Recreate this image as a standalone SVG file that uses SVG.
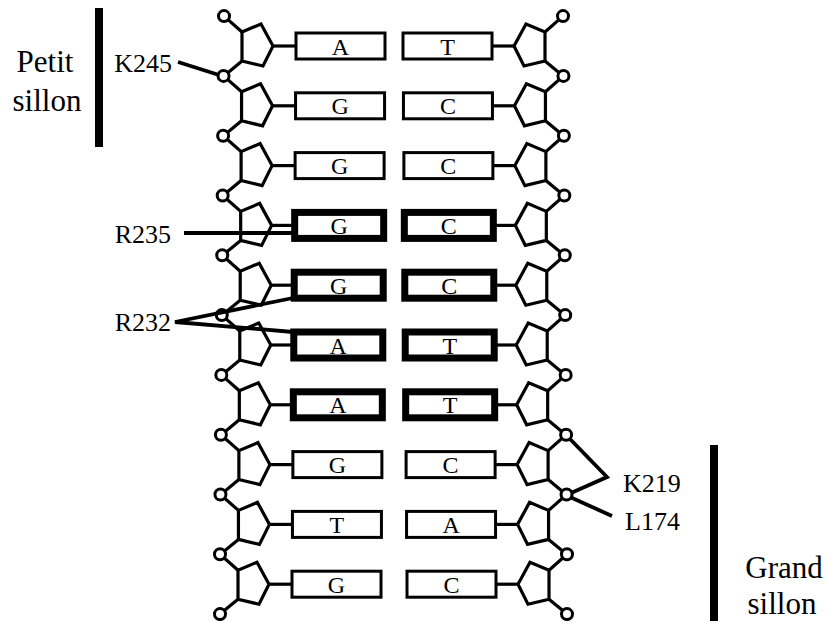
<svg xmlns="http://www.w3.org/2000/svg" width="829" height="621" viewBox="0 0 829 621">
<style>
.s{fill:none;stroke:#000;stroke-width:3.2;stroke-linejoin:miter}
.c{fill:#fff;stroke:#000;stroke-width:3}
.b{fill:#fff;stroke:#000;stroke-width:3}
.bb{fill:#fff;stroke:#000;stroke-width:7}
text{font-family:"Liberation Serif","DejaVu Serif","Times New Roman",serif;fill:#000}
.t{font-size:24px;text-anchor:middle}
.lab{font-size:26px}
.big{font-size:31px;text-anchor:middle}
.k{stroke:#000;stroke-width:3.8;fill:none;stroke-linecap:butt}
</style>
<defs>
<g id="sugL"><polygon class="s" points="242,-14 261,-22 273,0 263,20 242,15"/><line class="s" x1="273" y1="0" x2="296" y2="0"/><line class="s" x1="224" y1="-29.9" x2="242" y2="-14"/><line class="s" x1="242" y1="15" x2="224" y2="29.9"/><circle class="c" cx="224" cy="-29.9" r="5.5"/></g>
<g id="sugR"><polygon class="s" points="545,-14 526,-22 514,0 524,20 545,15"/><line class="s" x1="514" y1="0" x2="492" y2="0"/><line class="s" x1="563" y1="-29.9" x2="545" y2="-14"/><line class="s" x1="545" y1="15" x2="563" y2="29.9"/><circle class="c" cx="563" cy="-29.9" r="5.5"/></g>
</defs>
<rect width="829" height="621" fill="#fff"/>
<g id="dna">
<g id="row0" transform="translate(0,46)">
<g id="n0L" transform="translate(0,0)"><use href="#sugL"/><rect class="b" x="296" y="-13" width="89" height="26"/><text class="t" font-family="Liberation Serif, DejaVu Serif, serif" x="340.5" y="8.5">A</text></g>
<g id="n0R" transform="translate(0,0)"><use href="#sugR"/><rect class="b" x="403" y="-13" width="89" height="26"/><text class="t" font-family="Liberation Serif, DejaVu Serif, serif" x="447.5" y="8.5">T</text></g>
</g>
<g id="row1" transform="translate(0,105.8)">
<g id="n1L" transform="translate(-0.44,0)"><use href="#sugL"/><rect class="b" x="296" y="-13" width="89" height="26"/><text class="t" font-family="Liberation Serif, DejaVu Serif, serif" x="340.5" y="8.5">G</text></g>
<g id="n1R" transform="translate(0.44,0)"><use href="#sugR"/><rect class="b" x="403" y="-13" width="89" height="26"/><text class="t" font-family="Liberation Serif, DejaVu Serif, serif" x="447.5" y="8.5">C</text></g>
</g>
<g id="row2" transform="translate(0,165.6)">
<g id="n2L" transform="translate(-0.89,0)"><use href="#sugL"/><rect class="b" x="296" y="-13" width="89" height="26"/><text class="t" font-family="Liberation Serif, DejaVu Serif, serif" x="340.5" y="8.5">G</text></g>
<g id="n2R" transform="translate(0.89,0)"><use href="#sugR"/><rect class="b" x="403" y="-13" width="89" height="26"/><text class="t" font-family="Liberation Serif, DejaVu Serif, serif" x="447.5" y="8.5">C</text></g>
</g>
<g id="row3" transform="translate(0,225.4)">
<g id="n3L" transform="translate(-1.33,0)"><use href="#sugL"/><rect class="bb" x="296" y="-13" width="89" height="26"/><text class="t" font-family="Liberation Serif, DejaVu Serif, serif" x="340.5" y="8.5">G</text></g>
<g id="n3R" transform="translate(1.33,0)"><use href="#sugR"/><rect class="bb" x="403" y="-13" width="89" height="26"/><text class="t" font-family="Liberation Serif, DejaVu Serif, serif" x="447.5" y="8.5">C</text></g>
</g>
<g id="row4" transform="translate(0,285.2)">
<g id="n4L" transform="translate(-1.78,0)"><use href="#sugL"/><rect class="bb" x="296" y="-13" width="89" height="26"/><text class="t" font-family="Liberation Serif, DejaVu Serif, serif" x="340.5" y="8.5">G</text></g>
<g id="n4R" transform="translate(1.78,0)"><use href="#sugR"/><rect class="bb" x="403" y="-13" width="89" height="26"/><text class="t" font-family="Liberation Serif, DejaVu Serif, serif" x="447.5" y="8.5">C</text></g>
</g>
<g id="row5" transform="translate(0,345)">
<g id="n5L" transform="translate(-2.22,0)"><use href="#sugL"/><rect class="bb" x="296" y="-13" width="89" height="26"/><text class="t" font-family="Liberation Serif, DejaVu Serif, serif" x="340.5" y="8.5">A</text></g>
<g id="n5R" transform="translate(2.22,0)"><use href="#sugR"/><rect class="bb" x="403" y="-13" width="89" height="26"/><text class="t" font-family="Liberation Serif, DejaVu Serif, serif" x="447.5" y="8.5">T</text></g>
</g>
<g id="row6" transform="translate(0,404.8)">
<g id="n6L" transform="translate(-2.67,0)"><use href="#sugL"/><rect class="bb" x="296" y="-13" width="89" height="26"/><text class="t" font-family="Liberation Serif, DejaVu Serif, serif" x="340.5" y="8.5">A</text></g>
<g id="n6R" transform="translate(2.67,0)"><use href="#sugR"/><rect class="bb" x="403" y="-13" width="89" height="26"/><text class="t" font-family="Liberation Serif, DejaVu Serif, serif" x="447.5" y="8.5">T</text></g>
</g>
<g id="row7" transform="translate(0,464.6)">
<g id="n7L" transform="translate(-3.11,0)"><use href="#sugL"/><rect class="b" x="296" y="-13" width="89" height="26"/><text class="t" font-family="Liberation Serif, DejaVu Serif, serif" x="340.5" y="8.5">G</text></g>
<g id="n7R" transform="translate(3.11,0)"><use href="#sugR"/><rect class="b" x="403" y="-13" width="89" height="26"/><text class="t" font-family="Liberation Serif, DejaVu Serif, serif" x="447.5" y="8.5">C</text></g>
</g>
<g id="row8" transform="translate(0,524.4)">
<g id="n8L" transform="translate(-3.56,0)"><use href="#sugL"/><rect class="b" x="296" y="-13" width="89" height="26"/><text class="t" font-family="Liberation Serif, DejaVu Serif, serif" x="340.5" y="8.5">T</text></g>
<g id="n8R" transform="translate(3.56,0)"><use href="#sugR"/><rect class="b" x="403" y="-13" width="89" height="26"/><text class="t" font-family="Liberation Serif, DejaVu Serif, serif" x="447.5" y="8.5">A</text></g>
</g>
<g id="row9" transform="translate(0,584.2)">
<g id="n9L" transform="translate(-4,0)"><use href="#sugL"/><circle class="c" cx="224" cy="29.9" r="5.5"/><rect class="b" x="296" y="-13" width="89" height="26"/><text class="t" font-family="Liberation Serif, DejaVu Serif, serif" x="340.5" y="8.5">G</text></g>
<g id="n9R" transform="translate(4,0)"><use href="#sugR"/><circle class="c" cx="563" cy="29.9" r="5.5"/><rect class="b" x="403" y="-13" width="89" height="26"/><text class="t" font-family="Liberation Serif, DejaVu Serif, serif" x="447.5" y="8.5">C</text></g>
</g>
</g>
<g id="grooves">
<rect x="95" y="8" width="8" height="139" fill="#000"/>
<rect x="710" y="445" width="8" height="176" fill="#000"/>
</g>
<g id="connectors">
<line class="k" x1="178" y1="62" x2="219" y2="75"/>
<line class="k" x1="184" y1="233" x2="296" y2="233"/>
<polyline class="k" points="293,298 175,322 293,332"/>
<polyline class="k" points="570,439 607,477 571,493"/>
<line class="k" x1="570" y1="497" x2="612" y2="516"/>
</g>
<g id="labels">
<text class="big" font-family="Liberation Serif, DejaVu Serif, serif" x="45" y="72">Petit</text>
<text class="big" font-family="Liberation Serif, DejaVu Serif, serif" x="47" y="111">sillon</text>
<text class="lab" font-family="Liberation Serif, DejaVu Serif, serif" x="172" y="72" text-anchor="end">K245</text>
<text class="lab" font-family="Liberation Serif, DejaVu Serif, serif" x="171" y="243" text-anchor="end">R235</text>
<text class="lab" font-family="Liberation Serif, DejaVu Serif, serif" x="171" y="331" text-anchor="end">R232</text>
<text class="lab" font-family="Liberation Serif, DejaVu Serif, serif" x="623" y="492">K219</text>
<text class="lab" font-family="Liberation Serif, DejaVu Serif, serif" x="625" y="530">L174</text>
<text class="big" font-family="Liberation Serif, DejaVu Serif, serif" x="784" y="578">Grand</text>
<text class="big" font-family="Liberation Serif, DejaVu Serif, serif" x="782" y="614">sillon</text>
</g>
</svg>
